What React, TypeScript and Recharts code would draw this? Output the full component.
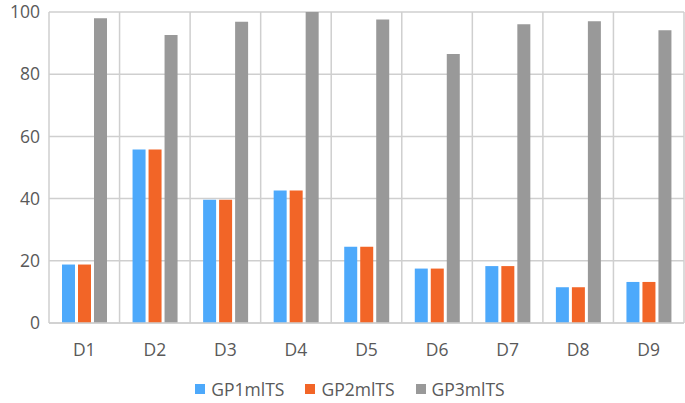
import { Bar, BarChart, CartesianGrid, Legend, XAxis, YAxis } from "recharts";

const categories = ["D1", "D2", "D3", "D4", "D5", "D6", "D7", "D8", "D9"];
const gp1 = [18.8, 55.8, 39.6, 42.6, 24.5, 17.5, 18.3, 11.5, 13.2];
const gp2 = [18.8, 55.8, 39.6, 42.6, 24.5, 17.5, 18.3, 11.5, 13.2];
const gp3 = [98.0, 92.6, 96.9, 100, 97.6, 86.5, 96.1, 97.0, 94.1];
const yTicks = [0, 20, 40, 60, 80, 100];

const series = [
  { key: "GP1mlTS", color: "#4da9fb" },
  { key: "GP2mlTS", color: "#f26527" },
  { key: "GP3mlTS", color: "#999999" },
];

const data = categories.map((name, i) => ({
  name,
  GP1mlTS: gp1[i],
  GP2mlTS: gp2[i],
  GP3mlTS: gp3[i],
}));

const FONT = "'Open Sans', sans-serif";
const TEXT = "#595959";
const GRID = "#cfcfcf";

function LegendBox() {
  return (
    <div
      style={{
        display: "flex",
        justifyContent: "center",
        gap: 21,
        paddingLeft: 16,
        paddingTop: 6,
        fontFamily: FONT,
        fontSize: 17.5,
        color: TEXT,
      }}
    >
      {series.map((s) => (
        <div key={s.key} style={{ display: "flex", alignItems: "center" }}>
          <span style={{ width: 10, height: 10, background: s.color, marginRight: 6, display: "inline-block" }} />
          {s.key}
        </div>
      ))}
    </div>
  );
}

export default function App() {
  return (
    <div style={{ position: "absolute", left: 0, top: 0, background: "#fff" }}>
      <BarChart
        width={685}
        height={403}
        data={data}
        margin={{ top: 12, right: 1, left: 0, bottom: 0 }}
        barCategoryGap={13}
        barGap={3}
      >
        <CartesianGrid
          stroke={GRID}
          strokeWidth={1.5}
          verticalCoordinatesGenerator={({ offset }: any) =>
            categories.map((_, i) => offset.left + (i * offset.width) / categories.length).concat(offset.left + offset.width)
          }
        />
        <XAxis
          dataKey="name"
          height={48}
          axisLine={{ stroke: GRID, strokeWidth: 1.5 }}
          tickLine={false}
          tickSize={0}
          tickMargin={21}
          tick={{ fill: TEXT, fontSize: 17.5, fontFamily: FONT }}
        />
        <YAxis
          width={49}
          domain={[0, 100]}
          ticks={yTicks}
          axisLine={false}
          tickLine={false}
          tickSize={0}
          tickMargin={9}
          tick={{ fill: TEXT, fontSize: 17.5, fontFamily: FONT }}
        />
        <Legend verticalAlign="bottom" height={32} content={() => <LegendBox />} />
        {series.map((s) => (
          <Bar key={s.key} dataKey={s.key} fill={s.color} isAnimationActive={false} />
        ))}
      </BarChart>
    </div>
  );
}
